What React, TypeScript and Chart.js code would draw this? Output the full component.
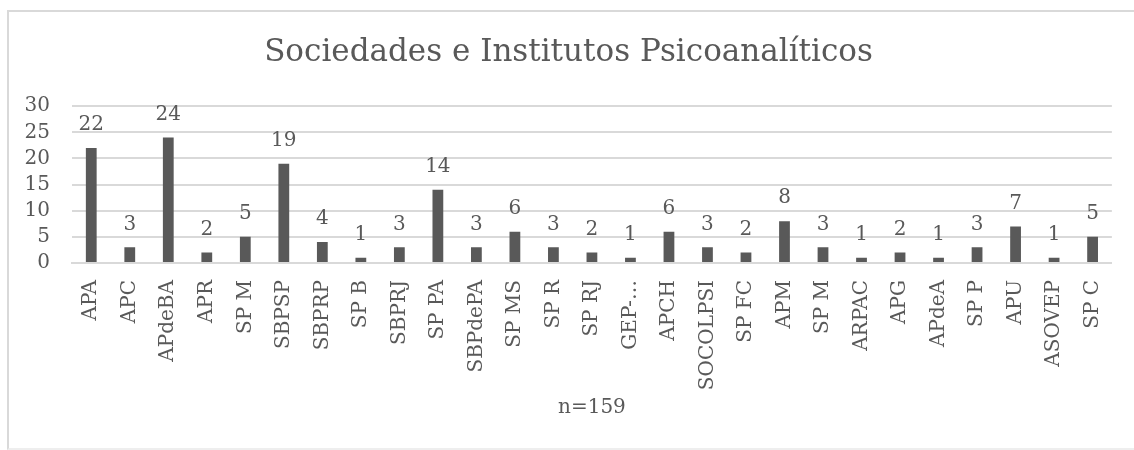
import React, { useEffect, useRef } from "react";
import { Chart, registerables } from "chart.js";

Chart.register(...registerables);

const categories: string[] = [
  "APA", "APC", "APdeBA", "APR", "SP M", "SBPSP", "SBPRP", "SP B", "SBPRJ",
  "SP PA", "SBPdePA", "SP MS", "SP R", "SP RJ", "GEP-…", "APCH", "SOCOLPSI",
  "SP FC", "APM", "SP M", "ARPAC", "APG", "APdeA", "SP P", "APU", "ASOVEP", "SP C",
];
const counts: number[] = [
  22, 3, 24, 2, 5, 19, 4, 1, 3, 14, 3, 6, 3, 2, 1, 6, 3, 2, 8, 3, 1, 2, 1, 3, 7, 1, 5,
];
const yTicks: number[] = [0, 5, 10, 15, 20, 25, 30];
const chartTitle = "Sociedades e Institutos Psicoanalíticos";
const axisTitle = "n=159";

const FONT = "'DejaVu Serif', serif";
const TEXT = "#595959";

const valueLabels = {
  id: "valueLabels",
  afterDatasetsDraw(chart: any) {
    const { ctx } = chart;
    const meta = chart.getDatasetMeta(0);
    ctx.save();
    ctx.fillStyle = TEXT;
    ctx.font = `20px ${FONT}`;
    ctx.textAlign = "center";
    ctx.textBaseline = "middle";
    meta.data.forEach((bar: any, i: number) => {
      ctx.fillText(String(counts[i]), bar.x, bar.y - 23);
    });
    ctx.restore();
  },
};

export default function App() {
  const ref = useRef<HTMLCanvasElement | null>(null);
  useEffect(() => {
    if (!ref.current) return;
    const chart = new Chart(ref.current, {
      type: "bar",
      data: {
        labels: categories,
        datasets: [
          {
            data: counts,
            backgroundColor: "#595959",
            categoryPercentage: 1,
            barPercentage: 0.28,
          },
        ],
      },
      options: {
        animation: false,
        responsive: false,
        maintainAspectRatio: false,
        layout: { padding: { left: 18, right: 22, top: 0, bottom: 0 } },
        plugins: {
          legend: { display: false },
          tooltip: { enabled: false },
          title: {
            display: true,
            text: chartTitle,
            color: TEXT,
            font: { family: FONT, size: 31, weight: "normal" },
            padding: { top: 24, bottom: 35 },
          },
        },
        scales: {
          x: {
            grid: { display: false, drawTicks: false },
            border: { display: true, color: "#d9d9d9", width: 2 },
            ticks: {
              color: TEXT,
              font: { family: FONT, size: 20 },
              maxRotation: 90,
              minRotation: 90,
              autoSkip: false,
              padding: 17,
            },
            title: {
              display: true,
              text: axisTitle,
              color: TEXT,
              font: { family: FONT, size: 20 },
              padding: { top: 0, bottom: 28 },
            },
            afterFit(scale: any) {
              scale.height = 185;
            },
          },
          y: {
            min: 0,
            max: 30,
            afterBuildTicks(scale: any) {
              scale.ticks = yTicks.map((v) => ({ value: v }));
            },
            grid: { color: "#d9d9d9", lineWidth: 2, drawTicks: false },
            border: { display: false },
            ticks: {
              color: TEXT,
              font: { family: FONT, size: 20 },
              padding: 22,
              autoSkip: false,
            },
            afterFit(scale: any) {
              scale.width = 47;
            },
          },
        },
      },
      plugins: [valueLabels],
    });
    return () => chart.destroy();
  }, []);

  return (
    <div style={{ position: "absolute", left: 0, top: 0, width: 1134, height: 450, overflow: "hidden", background: "#fff" }}>
      <div
        style={{
          position: "absolute",
          left: 7,
          top: 10,
          width: 1140,
          height: 436,
          borderLeft: "2px solid #d9d9d9",
          borderTop: "2px solid #d9d9d9",
          borderBottom: "2px solid #eeeeee",
        }}
      />
      <canvas
        ref={ref}
        width={1127}
        height={438}
        style={{ position: "absolute", left: 7, top: 10, width: 1127, height: 438 }}
      />
    </div>
  );
}
